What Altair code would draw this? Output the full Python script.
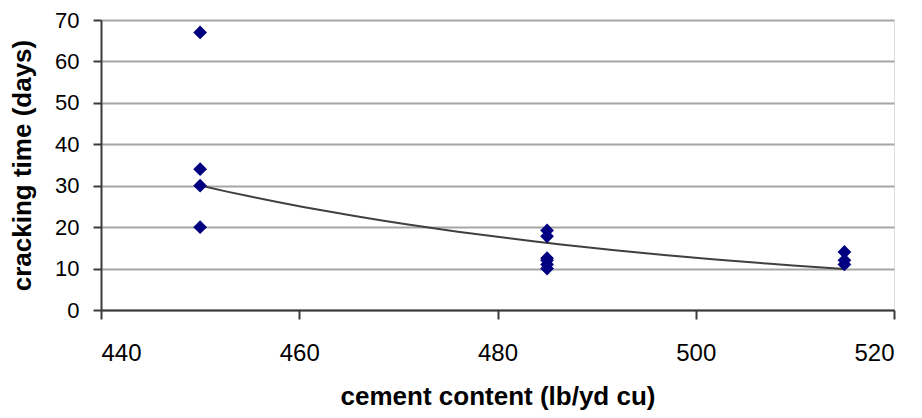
import altair as alt
import pandas as pd

cement = [450, 450, 450, 450, 485, 485, 485, 485, 485, 485, 515, 515, 515]
crack_days = [67, 34, 30, 20, 19.2, 17.8, 12.5, 11, 10, 12, 14, 12, 11]

x_ticks = [440, 460, 480, 500, 520]
y_ticks = [0, 10, 20, 30, 40, 50, 60, 70]

df = pd.DataFrame({"cement": cement, "time": crack_days})

FONT = "Liberation Sans"

x_enc = alt.X(
    "cement:Q",
    scale=alt.Scale(domain=[440, 520], nice=False, zero=False),
    axis=alt.Axis(
        values=x_ticks,
        title="cement content (lb/yd cu)",
        titleFont=FONT, titleFontSize=26, titleFontWeight="bold", titleColor="#000000",
        titlePadding=18,
        labelFont=FONT, labelFontSize=24, labelColor="#000000", labelPadding=22,
        domainColor="#3a3a3a", domainWidth=2,
        tickColor="#3a3a3a", tickWidth=2, tickSize=9,
        grid=False,
    ),
)
y_enc = alt.Y(
    "time:Q",
    scale=alt.Scale(domain=[0, 70], nice=False),
    axis=alt.Axis(
        values=y_ticks,
        title="cracking time (days)",
        titleFont=FONT, titleFontSize=26, titleFontWeight="bold", titleColor="#000000",
        titlePadding=19,
        labelFont=FONT, labelFontSize=22, labelColor="#000000", labelPadding=14,
        domainColor="#3a3a3a", domainWidth=2,
        tickColor="#3a3a3a", tickWidth=2, tickSize=8,
        grid=True, gridColor="#a6a6a6", gridWidth=2,
    ),
)

base = alt.Chart(df)

trend = base.transform_regression(
    "cement", "time", method="pow", extent=[450, 515]
).mark_line(color="#404040", strokeWidth=2).encode(x=x_enc, y=y_enc)

points = base.mark_point(
    shape="diamond", filled=True, color="#000080", size=190, opacity=1
).encode(x=x_enc, y=y_enc)

chart = (
    alt.layer(trend, points)
    .properties(
        width=793,
        height=290,
        autosize=alt.AutoSizeParams(type="none"),
        padding={"left": 93, "top": 12, "right": 20, "bottom": 100},
    )
    .configure_view(stroke="#a6a6a6", strokeWidth=2)
    .configure(background="#ffffff")
)

chart.save("out.html", embed_options={"renderer": "svg", "actions": False})
